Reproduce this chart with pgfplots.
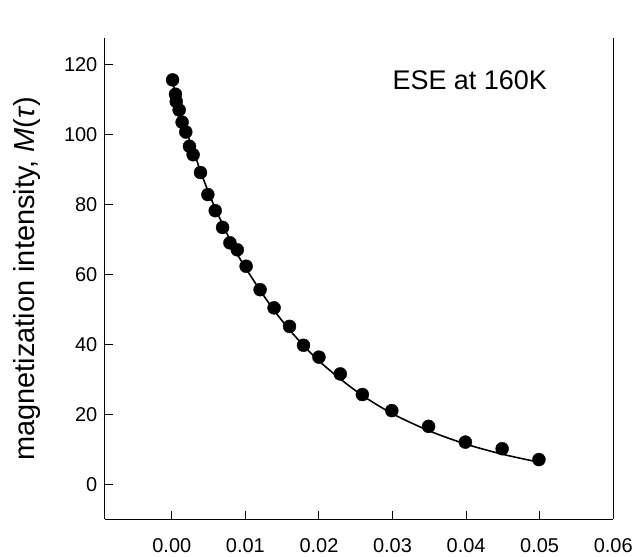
\documentclass[border=0pt]{standalone}
\usepackage{pgfplots}
\pgfplotsset{compat=1.18}
\usepackage{fontspec}
\setmainfont{Liberation Sans}
\pgfplotstableread{
x y
0.0001 115.7
0.0005 111.6
0.0006 109.5
0.0010 107.1
0.0014 103.6
0.0019 100.8
0.0024 96.7
0.0029 94.3
0.0039 89.2
0.0049 82.9
0.0059 78.3
0.0069 73.5
0.0079 69.1
0.0089 67.1
0.0101 62.4
0.0120 55.7
0.0139 50.5
0.0160 45.2
0.0179 39.8
0.0200 36.4
0.0229 31.6
0.0259 25.7
0.0299 21.1
0.0349 16.6
0.0399 12.1
0.0449 10.2
0.0499 7.1
}\points
\pgfplotstableread{
x y
0.000 116.0
0.001 108.0
0.002 101.0
0.003 95.0
0.004 89.0
0.005 83.5
0.006 78.5
0.007 74.0
0.008 69.5
0.009 65.5
0.010 62.0
0.012 55.5
0.014 49.5
0.016 44.2
0.018 39.5
0.020 35.3
0.023 30.0
0.026 25.3
0.030 20.2
0.035 15.3
0.040 11.5
0.045 8.6
0.050 6.3
}\fit
\begin{document}
\begin{tikzpicture}
\begin{axis}[
  scale only axis,
  width=509pt, height=482pt,
  xmin=-0.0091, xmax=0.06,
  ymin=-10, ymax=127.7,
  axis x line=bottom, axis y line=left,
  axis line style={-, line width=1.2pt},
  xtick={0,0.01,0.02,0.03,0.04,0.05,0.06},
  xticklabels={0.00,0.01,0.02,0.03,0.04,0.05,0.06},
  ytick={0,20,40,60,80,100,120},
  tick align=inside,
  major tick length=8pt,
  tick style={line width=1pt, black},
  /pgf/number format/assume math mode=true,
  tick label style={font=\fontsize{20}{24}\selectfont},
  xticklabel style={yshift=-16pt},
  yticklabel style={xshift=-4pt},
  scaled x ticks=false,
  ylabel={magnetization intensity, \textit{M}(\textit{τ})},
  every axis y label/.style={at={(axis description cs:0,0.5)}, xshift=-78pt, rotate=90, anchor=center, font=\fontsize{29}{34}\selectfont},
  clip=false,
]
\addplot[black, line width=1.6pt, smooth, no marks] table {\fit};
\addplot[only marks, mark=*, mark size=6.5pt, black] table {\points};
\draw[line width=1.2pt] (rel axis cs:1,0) -- (rel axis cs:1,1);
\node[font=\fontsize{27}{32}\selectfont] at (axis cs:0.0405,115.7) {ESE at 160K};
\end{axis}
\path (current axis.south west) ++(-105pt,-34pt) coordinate (bl);
\path (current axis.north east) ++(22pt,38pt) coordinate (tr);
\path (bl) rectangle (tr);
\end{tikzpicture}
\end{document}
